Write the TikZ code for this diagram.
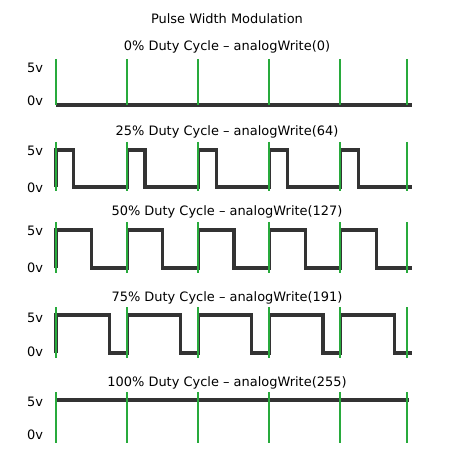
\documentclass[tikz,border=0pt]{standalone}
\usepackage{fontspec}
\setmainfont{DejaVu Sans}
\usepackage{tikz}
\usetikzlibrary{positioning}

\definecolor{wavegray}{RGB}{51,51,51}
\definecolor{tickgreen}{RGB}{40,170,60}

\tikzset{
	wave/.style={line width=3.2bp, color=wavegray, line join=miter},
	tick/.style={line width=1.2bp, color=tickgreen},
	lbl/.style={font=\fontsize{13}{15}\selectfont, inner sep=0pt},
}

\begin{document}
\begin{tikzpicture}[x=1bp,y=-1bp]
	\useasboundingbox (0,0) rectangle (455,457);
	
	\node[lbl] (title) at (227,19) {Pulse Width Modulation};
	
	% 0%
	\node[lbl] (t0) at (227,47) {0\% Duty Cycle -- analogWrite(0)};
	\node[lbl] (hi0) at (35,68) {5v};
	\node[lbl] (lo0) at (35,101) {0v};
	\draw[wave] (56,105) -- (412,105);
	\foreach \x in {56,127,198,269,340,407}
		\draw[tick] (\x,59) -- (\x,105);
	
	% 25%
	\begin{scope}[yshift=-85bp]
		\node[lbl] (t25) at (227,47) {25\% Duty Cycle -- analogWrite(64)};
		\node[lbl] (hi25) at (35,66) {5v};
		\node[lbl] (lo25) at (35,103) {0v};
		\draw[wave] (56,102) \foreach \k in {0,...,4} { -- ++(0,-37) -- ++(17.8,0) -- ++(0,37) -- ++(53.4,0) };
		\foreach \x in {56,127,198,269,340,407}
			\draw[tick] (\x,57) -- (\x,106);
	\end{scope}
	
	% 50%
	\begin{scope}[yshift=-165bp]
		\node[lbl] (t50) at (227,47) {50\% Duty Cycle -- analogWrite(127)};
		\node[lbl] (hi50) at (35,66) {5v};
		\node[lbl] (lo50) at (35,103) {0v};
		\draw[wave] (56,103) \foreach \k in {0,...,4} { -- ++(0,-38) -- ++(35.6,0) -- ++(0,38) -- ++(35.6,0) };
		\foreach \x in {56,127,198,269,340,407}
			\draw[tick] (\x,57) -- (\x,108);
	\end{scope}
	
	% 75%
	\begin{scope}[yshift=-251bp]
		\node[lbl] (t75) at (227,47) {75\% Duty Cycle -- analogWrite(191)};
		\node[lbl] (hi75) at (35,67) {5v};
		\node[lbl] (lo75) at (35,101) {0v};
		\draw[wave] (56,102) \foreach \k in {0,...,4} { -- ++(0,-38) -- ++(53.4,0) -- ++(0,38) -- ++(17.8,0) };
		\foreach \x in {56,127,198,269,340,407}
			\draw[tick] (\x,56) -- (\x,107);
	\end{scope}
	
	% 100%
	\begin{scope}[yshift=-336bp]
		\node[lbl] (t100) at (227,47) {100\% Duty Cycle -- analogWrite(255)};
		\node[lbl] (hi100) at (35,66) {5v};
		\node[lbl] (lo100) at (35,99) {0v};
		\draw[wave] (56,64) -- (409,64);
		\foreach \x in {56,127,198,269,340,407}
			\draw[tick] (\x,56) -- (\x,107);
	\end{scope}
\end{tikzpicture}
\end{document}
